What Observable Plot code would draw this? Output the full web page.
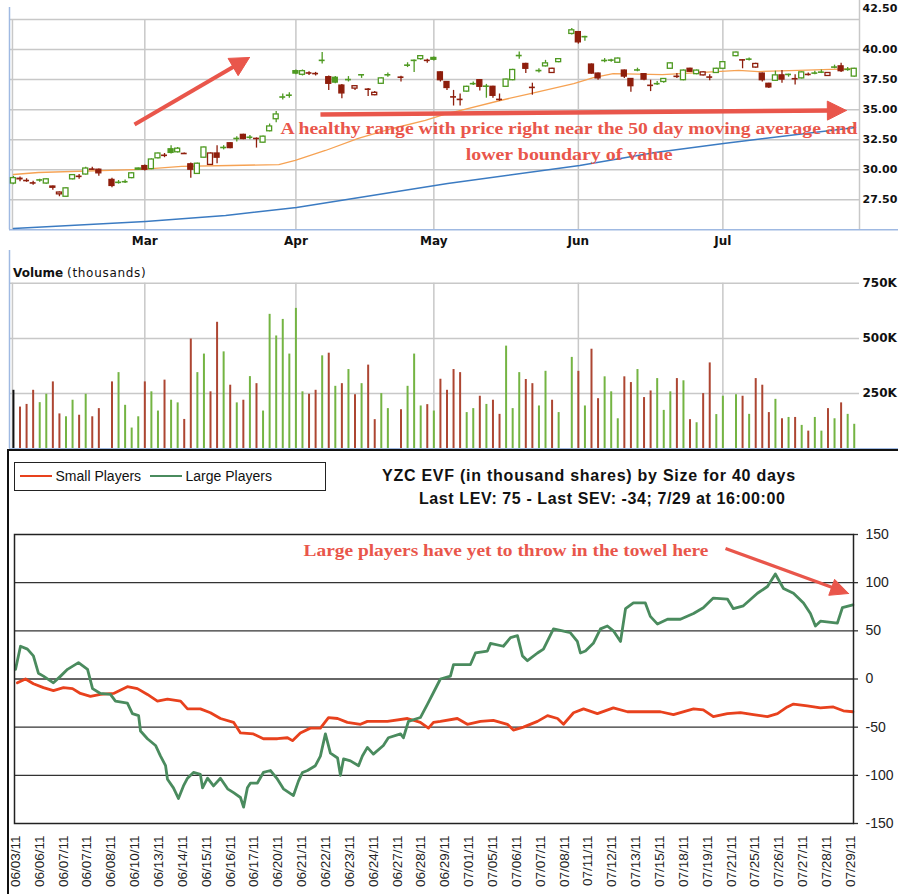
<!DOCTYPE html>
<html><head><meta charset="utf-8">
<script src="https://cdn.jsdelivr.net/npm/d3@7"></script>
<script src="https://cdn.jsdelivr.net/npm/@observablehq/plot@0.6"></script>
<style>
html,body{margin:0;padding:0;background:#fff;}
#root{position:relative;width:898px;height:894px;overflow:hidden;background:#fff;}
#root svg{position:absolute;left:0;}
.lbl{position:absolute;white-space:nowrap;}
</style></head><body><div id="root"></div>
<script>
// ================= DATA =================
// Price panel: x = weekday index (0 = Tue Feb 1 2011 ... 128 = Fri Jul 29 2011); null = market holiday
const monthStarts = [20, 43, 64, 86, 108];
const monthLabels = ["Mar", "Apr", "May", "Jun", "Jul"];
const priceTicks = [27.5, 30, 32.5, 35, 37.5, 40, 42.5];
const volTicks = [250, 500, 750];
const volTickLabels = ["250K", "500K", "750K"];

const open = [28.85,29.25,29.1,28.9,29.15,28.85,28.6,27.95,27.75,29.2, 29.45,29.6,30.05,30.0,null,29.15,28.95,29.0,29.3,30.0,
 30.3,30.05,30.95,31.2,31.7,31.45,31.35,30.45,29.65,31.0, 30.4,31.35,31.85,32.2,32.6,32.9,32.7,32.6,32.25,33.2,
 34.2,36.05,36.2,38.2,37.9,38.05,38.0,39.1,37.7,37.65, 37.0,37.5,36.75,37.9,36.7,36.2,37.15,37.9,null,37.7,
 38.7,39.1,39.2,39.1,39.3,38.1,37.3,36.06,35.85,36.5, 37.16,37.45,36.95,36.9,35.85,36.9,37.45,39.5,38.8,36.85,
 38.25,38.6,38.05,38.95,null,41.3,41.45,41.07,38.75,38.0, 39.09,39.12,38.9,38.25,37.55,38.3,37.95,37.02,37.16,37.3,
 38.4,37.77,37.45,38.4,37.95,37.85,37.71,38.05,38.4,null, 39.45,39.14,39.2,38.5,38.0,37.15,37.4,37.85,37.93,37.57,
 37.6,37.93,38.04,38.12,37.8,38.54,38.6,38.35,37.75];
const close = [29.3,29.2,29.1,28.9,29.15,29.2,28.5,28.1,28.45,29.55, 29.45,30.1,30.05,29.7,null,28.65,28.95,29.0,29.7,30.1,
 30.0,30.85,31.35,31.2,31.4,31.75,31.35,30.0,30.5,31.85, 31.35,31.0,31.85,31.8,32.6,32.55,32.7,32.6,32.75,33.6,
 34.6,36.05,36.2,38.0,38.2,38.05,38.0,39.1,37.15,37.25, 36.35,37.5,36.95,37.9,36.7,36.4,37.6,37.9,null,37.7,
 38.7,39.1,39.45,39.1,39.15,37.45,36.8,36.06,35.85,36.9, 37.16,36.9,36.95,36.15,35.85,37.5,38.3,39.5,38.4,36.85,
 38.25,38.85,38.4,39.2,null,41.6,40.6,41.07,38.0,37.6, 39.09,39.12,39.25,37.75,36.95,38.3,37.5,37.02,37.16,37.55,
 38.85,37.77,38.25,38.15,38.25,38.1,37.71,38.4,38.95,null, 39.75,39.14,39.2,38.8,37.45,36.85,37.85,37.5,37.93,37.57,
 38.1,37.93,38.04,38.12,38.05,38.54,38.2,38.35,38.4];
const high = [29.45,29.4,29.25,29.05,29.2,29.25,28.65,28.15,28.5,29.6, 29.6,30.2,30.2,30.05,null,29.3,29.1,29.15,29.75,30.15,
 30.4,30.9,31.4,31.35,32.0,31.85,31.4,30.55,30.55,31.9, 31.4,32.0,32.0,32.25,32.75,32.95,32.85,32.65,32.8,33.8,
 34.85,36.3,36.4,38.3,38.3,38.15,38.1,39.75,37.8,37.75, 37.1,37.75,37.0,37.9,36.75,36.5,37.65,38.05,null,37.77,
 38.9,39.14,39.5,39.2,39.37,38.15,37.35,36.6,36.3,36.95, 37.3,37.5,37.1,36.95,36.3,37.55,38.35,39.8,38.85,37.2,
 38.4,39.1,38.45,39.25,null,41.75,41.5,41.1,38.8,38.05, 39.25,39.2,39.3,38.3,37.6,38.45,38.0,37.45,37.35,37.6,
 38.9,38.0,38.3,38.45,38.3,38.15,37.9,38.45,39.0,null, 39.8,39.14,39.3,38.85,38.05,37.2,38.2,38.25,37.95,37.9,
 38.15,38.05,38.2,38.3,38.1,38.7,38.85,38.5,38.45];
const low = [28.75,29.0,28.95,28.7,28.95,28.8,28.3,27.75,27.7,29.15, 29.2,29.55,29.95,29.45,null,28.5,28.8,28.85,29.25,29.95,
 29.9,30.0,30.9,31.0,31.3,31.4,31.3,29.3,29.6,30.95, 30.35,30.5,31.65,31.75,32.3,32.5,32.5,31.8,32.2,33.15,
 33.9,35.8,35.95,37.9,37.8,37.85,37.8,38.8,36.6,37.15, 35.9,37.3,36.6,37.6,36.1,36.15,37.1,37.7,null,37.3,
 38.5,38.1,39.1,38.85,39.05,37.3,36.6,35.3,35.3,36.45, 37.0,36.55,35.95,35.95,35.7,36.85,37.4,39.2,38.0,36.2,
 38.05,38.55,38.0,38.9,null,41.2,40.45,40.7,37.95,37.45, 38.9,38.95,38.85,37.6,36.45,38.15,37.4,36.5,37.0,37.2,
 38.35,37.6,37.4,38.1,37.9,37.8,37.4,38.0,38.35,null, 39.4,38.4,39.05,38.45,37.3,36.75,37.35,37.2,37.7,37.05,
 37.55,37.8,37.9,38.0,37.75,38.4,38.1,38.2,37.7];
// volume in thousands
const volume = [265,189,201,265,209,247,303,158,145,220, 152,247,145,182,null,303,345,197,94,145,
 303,258,171,311,220,208,133,497,345,429, 258,573,439,288,208,220,327,295,171,609,
 511,586,429,636,258,247,265,421,433,283, 295,359,245,295,379,132,250,182,null,177,
 283,429,194,200,171,315,265,359,345,164, 182,238,201,220,156,465,182,345,314,295,
 194,351,220,164,null,414,351,194,451,227, 326,258,136,326,300,359,232,262,318,174,
 258,318,308,132,118,250,389,155,238,null, 245,238,156,318,288,164,224,136,142,142,
 106,80,142,80,182,136,208,156,111];
// moving averages (read at key points)
const ma50Idx = [0,3.8,19.5,25.6,33.0,40.4,42.9,47.5,52.5,57.7,62.7,66.1,68.1,74.1,78.7,85.3,88.3,91.3,98.8,110.4,113.4,119.5,128.2];
const ma50 = [29.6,29.77,30.02,30.27,30.35,30.43,30.77,31.6,32.6,33.43,34.1,34.68,34.93,35.76,36.34,37.17,37.67,38.0,37.92,38.26,38.17,38.26,38.42];
const ma200Idx = [0,20.1,32.3,43.1,66.1,86.2,97.7,108.1,128.2];
const ma200 = [25.11,25.69,26.19,26.86,28.85,30.35,31.43,32.18,33.51];

// EVF panel: x = position along the 36 date labels
const dateLabels = ["06/03/11","06/06/11","06/07/11","06/07/11","06/08/11","06/10/11","06/13/11","06/14/11","06/15/11","06/16/11","06/17/11","06/20/11",
 "06/21/11","06/22/11","06/23/11","06/24/11","06/27/11","06/28/11","06/29/11","07/01/11","07/05/11","07/06/11","07/07/11","07/08/11",
 "07/11/11","07/12/11","07/13/11","07/15/11","07/18/11","07/19/11","07/21/11","07/25/11","07/26/11","07/27/11","07/28/11","07/29/11"];
const evfTicks = [150, 100, 50, 0, -50, -100, -150];
const largeT = [0.00,0.21,0.50,0.75,0.96,1.17,1.59,1.89,2.18,2.64, 3.02,3.23,3.56,3.98,4.19,4.69,4.90,5.16,5.24,5.53,
 5.87,6.08,6.29,6.37,6.62,6.83,7.04,7.21,7.46,7.75, 7.84,8.05,8.30,8.59,8.89,9.14,9.43,9.56,9.72,9.85,
 10.14,10.39,10.69,10.98,11.23,11.65,11.86,12.03,12.24,12.57, 12.78,12.99,13.20,13.50,13.62,13.75,14.04,14.38,14.54,14.75,
 15.00,15.42,15.63,16.14,16.26,16.47,16.97,17.27,17.52,17.81, 18.23,18.36,19.07,19.28,19.78,19.91,20.45,20.75,21.04,21.25,
 21.46,21.88,22.13,22.55,22.93,23.26,23.55,23.68,23.89,24.22, 24.52,24.81,25.06,25.36,25.57,25.90,26.40,26.61,26.91,27.33,
 27.87,28.42,28.83,29.25,29.84,30.09,30.51,31.10,31.52,31.85, 32.19,32.61,33.03,33.32,33.53,33.74,34.45,34.66,35.10];
const largeV = [10,34,31,24,6,3,-4,3,10,17, 10,-10,-15,-16,-23,-25,-36,-38,-54,-62,
 -69,-80,-90,-104,-113,-124,-111,-103,-97,-99, -113,-103,-111,-103,-114,-118,-123,-133,-113,-108,
 -108,-97,-95,-104,-114,-121,-106,-97,-95,-90, -80,-57,-77,-82,-100,-83,-85,-90,-80,-71,
 -78,-69,-61,-57,-61,-44,-40,-26,-14,0, 3,15,15,27,29,37,34,43,45,24,
 19,27,31,52,50,48,39,27,29,37, 52,55,50,39,73,79,79,65,57,62,
 62,68,74,84,83,73,76,89,96,109, 94,89,79,68,55,60,58,74,77];
const smallT = [0.08,0.42,0.75,1.17,1.59,2.01,2.39,2.72,3.14,3.56, 4.11,4.69,5.11,5.53,5.95,6.37,6.92,7.21,7.75,8.17,
 8.59,9.14,9.43,9.97,10.39,10.98,11.40,11.61,11.94,12.36, 12.78,13.12,13.50,13.91,14.46,14.75,15.59,16.43,16.97,17.31,
 17.52,17.81,18.52,18.94,19.49,20.03,20.62,20.87,21.29,21.88, 22.30,22.72,22.97,23.39,23.81,24.39,25.06,25.65,27.03,27.58,
 28.42,28.83,29.25,29.84,30.39,30.93,31.52,31.94,32.35,32.61, 33.19,33.74,34.28,34.70,35.10];
const smallV = [-4,0,-5,-9,-12,-9,-10,-15,-18,-16, -15,-8,-10,-16,-23,-21,-23,-31,-31,-35,
 -41,-45,-56,-57,-62,-62,-61,-64,-56,-51, -51,-40,-41,-45,-47,-44,-44,-41,-45,-51,
 -45,-44,-41,-47,-44,-43,-47,-53,-50,-44, -38,-41,-47,-35,-31,-36,-30,-34,-34,-37,
 -31,-32,-39,-36,-35,-37,-39,-36,-29,-26, -28,-30,-29,-33,-34];

// texts
const ann1 = "A healthy range with price right near the 50 day moving average and";
const ann2 = "lower boundary of value";
const ann3 = "Large players have yet to throw in the towel here";
const title1 = "YZC EVF (in thousand shares) by Size for 40 days";
const title2 = "Last LEV: 75 - Last SEV: -34; 7/29 at 16:00:00";
const seriesNames = ["Small Players", "Large Players"];

// ================= STYLE =================
const GRID = "#c8c8c8", BLUEAX = "#9fb9e2";
const CG = "#4f9a22", CR = "#8e1e0c", VG = "#74b443", VR = "#ad4632";
const MA50C = "#f6a253", MA200C = "#3b7bc2";
const ANN = "#e9564b";
const SMALL = "#e8411d", LARGE = "#4a8b5e";

// ================= BUILD =================
const root = document.getElementById("root");
function put(svg, top) { svg.style.top = top + "px"; root.appendChild(svg); return svg; }
function fitText(svg, str, len) {
  d3.select(svg).selectAll("text").filter(function () { return this.textContent === str; })
    .attr("textLength", len).attr("lengthAdjust", "spacingAndGlyphs");
}
function arrow(x1, y1, x2, y2, kx, ky, color, w, L, H) {
  const dxp = (x2 - x1) * kx, dyp = -(y2 - y1) * ky, len = Math.hypot(dxp, dyp);
  const ux = dxp / len, uy = dyp / len;
  const toD = (sx, sy) => [sx / kx, -sy / ky];
  const [bx, by] = toD(-ux * L, -uy * L);
  const [nx, ny] = toD(-uy * H, ux * H);
  const [sx, sy] = toD(-ux * (L - 3), -uy * (L - 3));
  const head = [[x2, y2], [x2 + bx + nx, y2 + by + ny], [x2 + bx - nx, y2 + by - ny], [x2, y2]];
  return [
    Plot.link([0], {x1: x1, y1: y1, x2: x2 + sx, y2: y2 + sy, stroke: color, strokeWidth: w}),
    Plot.line(head, {x: d => d[0], y: d => d[1], fill: color, stroke: color, strokeWidth: 1})
  ];
}

// candles
const candles = [];
let prevC = null;
open.forEach((o, i) => {
  if (o == null) return;
  const c = close[i];
  candles.push({i, o, c, h: high[i], l: low[i], up: prevC == null ? true : c >= prevC, hollow: c > o});
  prevC = c;
});
const byI = new Map(candles.map(d => [d.i, d]));
const vols = [];
volume.forEach((v, i) => {
  if (v == null) return;
  vols.push({i, v, col: i === 0 ? "#111" : (byI.get(i).up ? VG : VR)});
});
const ccol = d => d.up ? CG : CR;

const X0 = -0.6, X1 = 128.8;
const kxTop = 850 / (X1 - X0), kyTop = 210.3 / 17.5;
const XR = X0 + 889 / kxTop; // right edge of page

const topSvg = Plot.plot({
  width: 898, height: 250, marginTop: 19, marginBottom: 20.7, marginLeft: 9, marginRight: 39,
  x: {domain: [X0, X1], axis: null}, y: {domain: [25, 42.5], axis: null}, color: {type: "identity"},
  style: {background: "transparent", fontFamily: "DejaVu Sans", fontSize: "12px", overflow: "visible"},
  marks: [
    Plot.ruleY(priceTicks, {stroke: GRID, strokeWidth: 1.5}),
    Plot.ruleX([-0.15, ...monthStarts], {stroke: GRID, strokeWidth: 1.5}),
    Plot.ruleX([X1], {y1: 25, y2: 44.08, stroke: GRID, strokeWidth: 1.5}),
    Plot.ruleY([25], {x1: X0, x2: XR, stroke: BLUEAX, strokeWidth: 1.5}),
    Plot.ruleX([X0], {y1: 25, y2: 43.5, stroke: BLUEAX, strokeWidth: 1.5}),
    Plot.line(ma200Idx.map((x, k) => ({x, y: ma200[k]})), {x: "x", y: "y", stroke: MA200C, strokeWidth: 1.5}),
    Plot.line(ma50Idx.map((x, k) => ({x, y: ma50[k]})), {x: "x", y: "y", stroke: MA50C, strokeWidth: 1.3}),
    Plot.ruleX(candles, {x: "i", y1: "l", y2: "h", stroke: ccol, strokeWidth: 1.3}),
    Plot.rect(candles.filter(d => Math.abs(d.c - d.o) >= 0.04), {
      x1: d => d.i - 0.38, x2: d => d.i + 0.38, y1: d => Math.min(d.o, d.c), y2: d => Math.max(d.o, d.c),
      fill: d => d.hollow ? "#fff" : ccol(d), stroke: ccol, strokeWidth: 1.3}),
    Plot.ruleY(candles.filter(d => Math.abs(d.c - d.o) < 0.04), {
      y: "c", x1: d => d.i - 0.45, x2: d => d.i + 0.45, stroke: ccol, strokeWidth: 1.6}),
    Plot.text(priceTicks.filter(t => t < 42.5), {x: X1, y: d => d, dx: 3, textAnchor: "start",
      text: d => d.toFixed(2), fontWeight: "bold", fontSize: 11, fill: "#111"}),
    Plot.text([42.5], {x: X1, y: d => d, dx: 3, dy: -11, textAnchor: "start",
      text: d => d.toFixed(2), fontWeight: "bold", fontSize: 11, fill: "#111"}),
    Plot.text(monthStarts, {x: d => d, y: 25, dy: 11, text: (d, i) => monthLabels[i],
      fontWeight: "bold", fontSize: 12, fill: "#111"}),
    ...arrow(18.43, 33.76, 35.94, 39.34, kxTop, kyTop, ANN, 4, 19, 10),
    ...arrow(46.74, 34.6, 126.8, 34.93, kxTop, kyTop, ANN, 4.5, 19, 9.5),
    Plot.text([ann1], {x: 40.65, y: 33.48, text: d => d, textAnchor: "start", fill: ANN,
      fontFamily: "Liberation Serif", fontWeight: "bold", fontSize: 17.5}),
    Plot.text([ann2], {x: 84.6, y: 31.3, text: d => d, textAnchor: "middle", fill: ANN,
      fontFamily: "Liberation Serif", fontWeight: "bold", fontSize: 17.5})
  ]
});
fitText(topSvg, ann1, 577);
fitText(topSvg, ann2, 207);
put(topSvg, 0);

const kyVol = 165.6 / 750;
const volSvg = Plot.plot({
  width: 898, height: 200, marginTop: 32.7, marginBottom: 1.7, marginLeft: 9, marginRight: 39,
  x: {domain: [X0, X1], axis: null}, y: {domain: [0, 750], axis: null}, color: {type: "identity"},
  style: {background: "transparent", fontFamily: "DejaVu Sans", fontSize: "12px", overflow: "visible"},
  marks: [
    Plot.ruleY(volTicks, {stroke: GRID, strokeWidth: 1.5}),
    Plot.ruleX([-0.15, ...monthStarts], {y1: 0, y2: 750, stroke: GRID, strokeWidth: 1.5}),
    Plot.ruleX(vols, {x: "i", y1: 0, y2: "v", stroke: "col", strokeWidth: 2}),
    Plot.ruleY([0], {x1: X0, x2: XR, stroke: BLUEAX, strokeWidth: 1.5}),
    Plot.ruleX([X0], {y1: 0, y2: 750 + 32.7 / kyVol, stroke: BLUEAX, strokeWidth: 1.5}),
    Plot.text(volTicks, {x: X1, y: d => d, dx: 3, textAnchor: "start", text: (d, i) => volTickLabels[i],
      fontWeight: "bold", fontSize: 12, fill: "#111"})
  ]
});
put(volSvg, 250);

const T0 = -0.042, T1 = 35.126;
const kxB = 839 / (T1 - T0), kyB = 289 / 300;
const botSvg = Plot.plot({
  width: 898, height: 444, marginTop: 84, marginBottom: 71, marginLeft: 14, marginRight: 45,
  x: {domain: [T0, T1], axis: null}, y: {domain: [-150, 150], axis: null}, color: {type: "identity"},
  style: {background: "transparent", fontFamily: "Liberation Sans, Arial", fontSize: "13px", overflow: "visible"},
  marks: [
    Plot.ruleY([100, 50, 0, -50, -100], {stroke: "#333", strokeWidth: 1.3}),
    Plot.ruleY(evfTicks, {x1: T1, x2: T1 + 5 / kxB, stroke: "#333", strokeWidth: 1.3}),
    Plot.text(evfTicks, {x: T1, y: d => d, dx: 12, textAnchor: "start", text: d => String(d), fontSize: 14, fill: "#222"}),
    Plot.text(dateLabels, {x: (d, i) => i, y: -150 - 12 / kyB, rotate: -90, textAnchor: "end", text: d => d,
      fontSize: 13.5, fill: "#222"}),
    Plot.line(smallT.map((t, k) => ({t, v: smallV[k]})), {x: "t", y: "v", stroke: SMALL, strokeWidth: 2.8}),
    Plot.line(largeT.map((t, k) => ({t, v: largeV[k]})), {x: "t", y: "v", stroke: LARGE, strokeWidth: 2.8}),
    Plot.frame({stroke: "#222", strokeWidth: 1.5}),
    ...arrow(29.76, 135.5, 34.92, 88.75, kxB, kyB, ANN, 3.2, 18, 8.5),
    Plot.text([ann3], {x: 20.56, y: 133.4, text: d => d, textAnchor: "middle", fill: ANN,
      fontFamily: "Liberation Serif", fontWeight: "bold", fontSize: 17.5})
  ]
});
fitText(botSvg, ann3, 405);
put(botSvg, 450);

// ---- HTML labels / frame / legend ----
function div(html, css) { const d = document.createElement("div"); d.className = "lbl"; d.innerHTML = html; Object.assign(d.style, css); root.appendChild(d); return d; }
div('<b>Volume</b> <span style="letter-spacing:0.7px">(thousands)</span>',
  {left: "13px", top: "266px", font: "12px 'DejaVu Sans'", lineHeight: "14px", color: "#111"});
div("", {left: "7px", top: "449px", width: "891px", height: "445px", borderLeft: "2px solid #111",
  borderTop: "2px solid #111", boxSizing: "border-box"});
const leg = div("", {left: "14px", top: "462px", width: "312px", height: "29px", border: "1.5px solid #222", boxSizing: "border-box"});
const legCols = [SMALL, LARGE], legLineX = [4.5, 134.5], legTextX = [40.5, 170.5];
seriesNames.forEach((n, k) => {
  const ln = document.createElement("div");
  Object.assign(ln.style, {position: "absolute", left: legLineX[k] + "px", top: "11.5px", width: "32px", height: "2.5px", background: legCols[k]});
  leg.appendChild(ln);
  const tx = document.createElement("div");
  tx.textContent = n;
  Object.assign(tx.style, {position: "absolute", left: legTextX[k] + "px", top: "5.6px", font: "14px 'Liberation Sans', Arial", lineHeight: "14px", color: "#111", whiteSpace: "nowrap"});
  leg.appendChild(tx);
});
div(title1, {left: "382px", top: "468px", font: "bold 16px 'Liberation Sans', Arial", lineHeight: "16px", letterSpacing: "0.75px", color: "#111"});
div(title2, {left: "419px", top: "491px", font: "bold 16px 'Liberation Sans', Arial", lineHeight: "16px", letterSpacing: "0.6px", color: "#111"});
</script></body></html>
